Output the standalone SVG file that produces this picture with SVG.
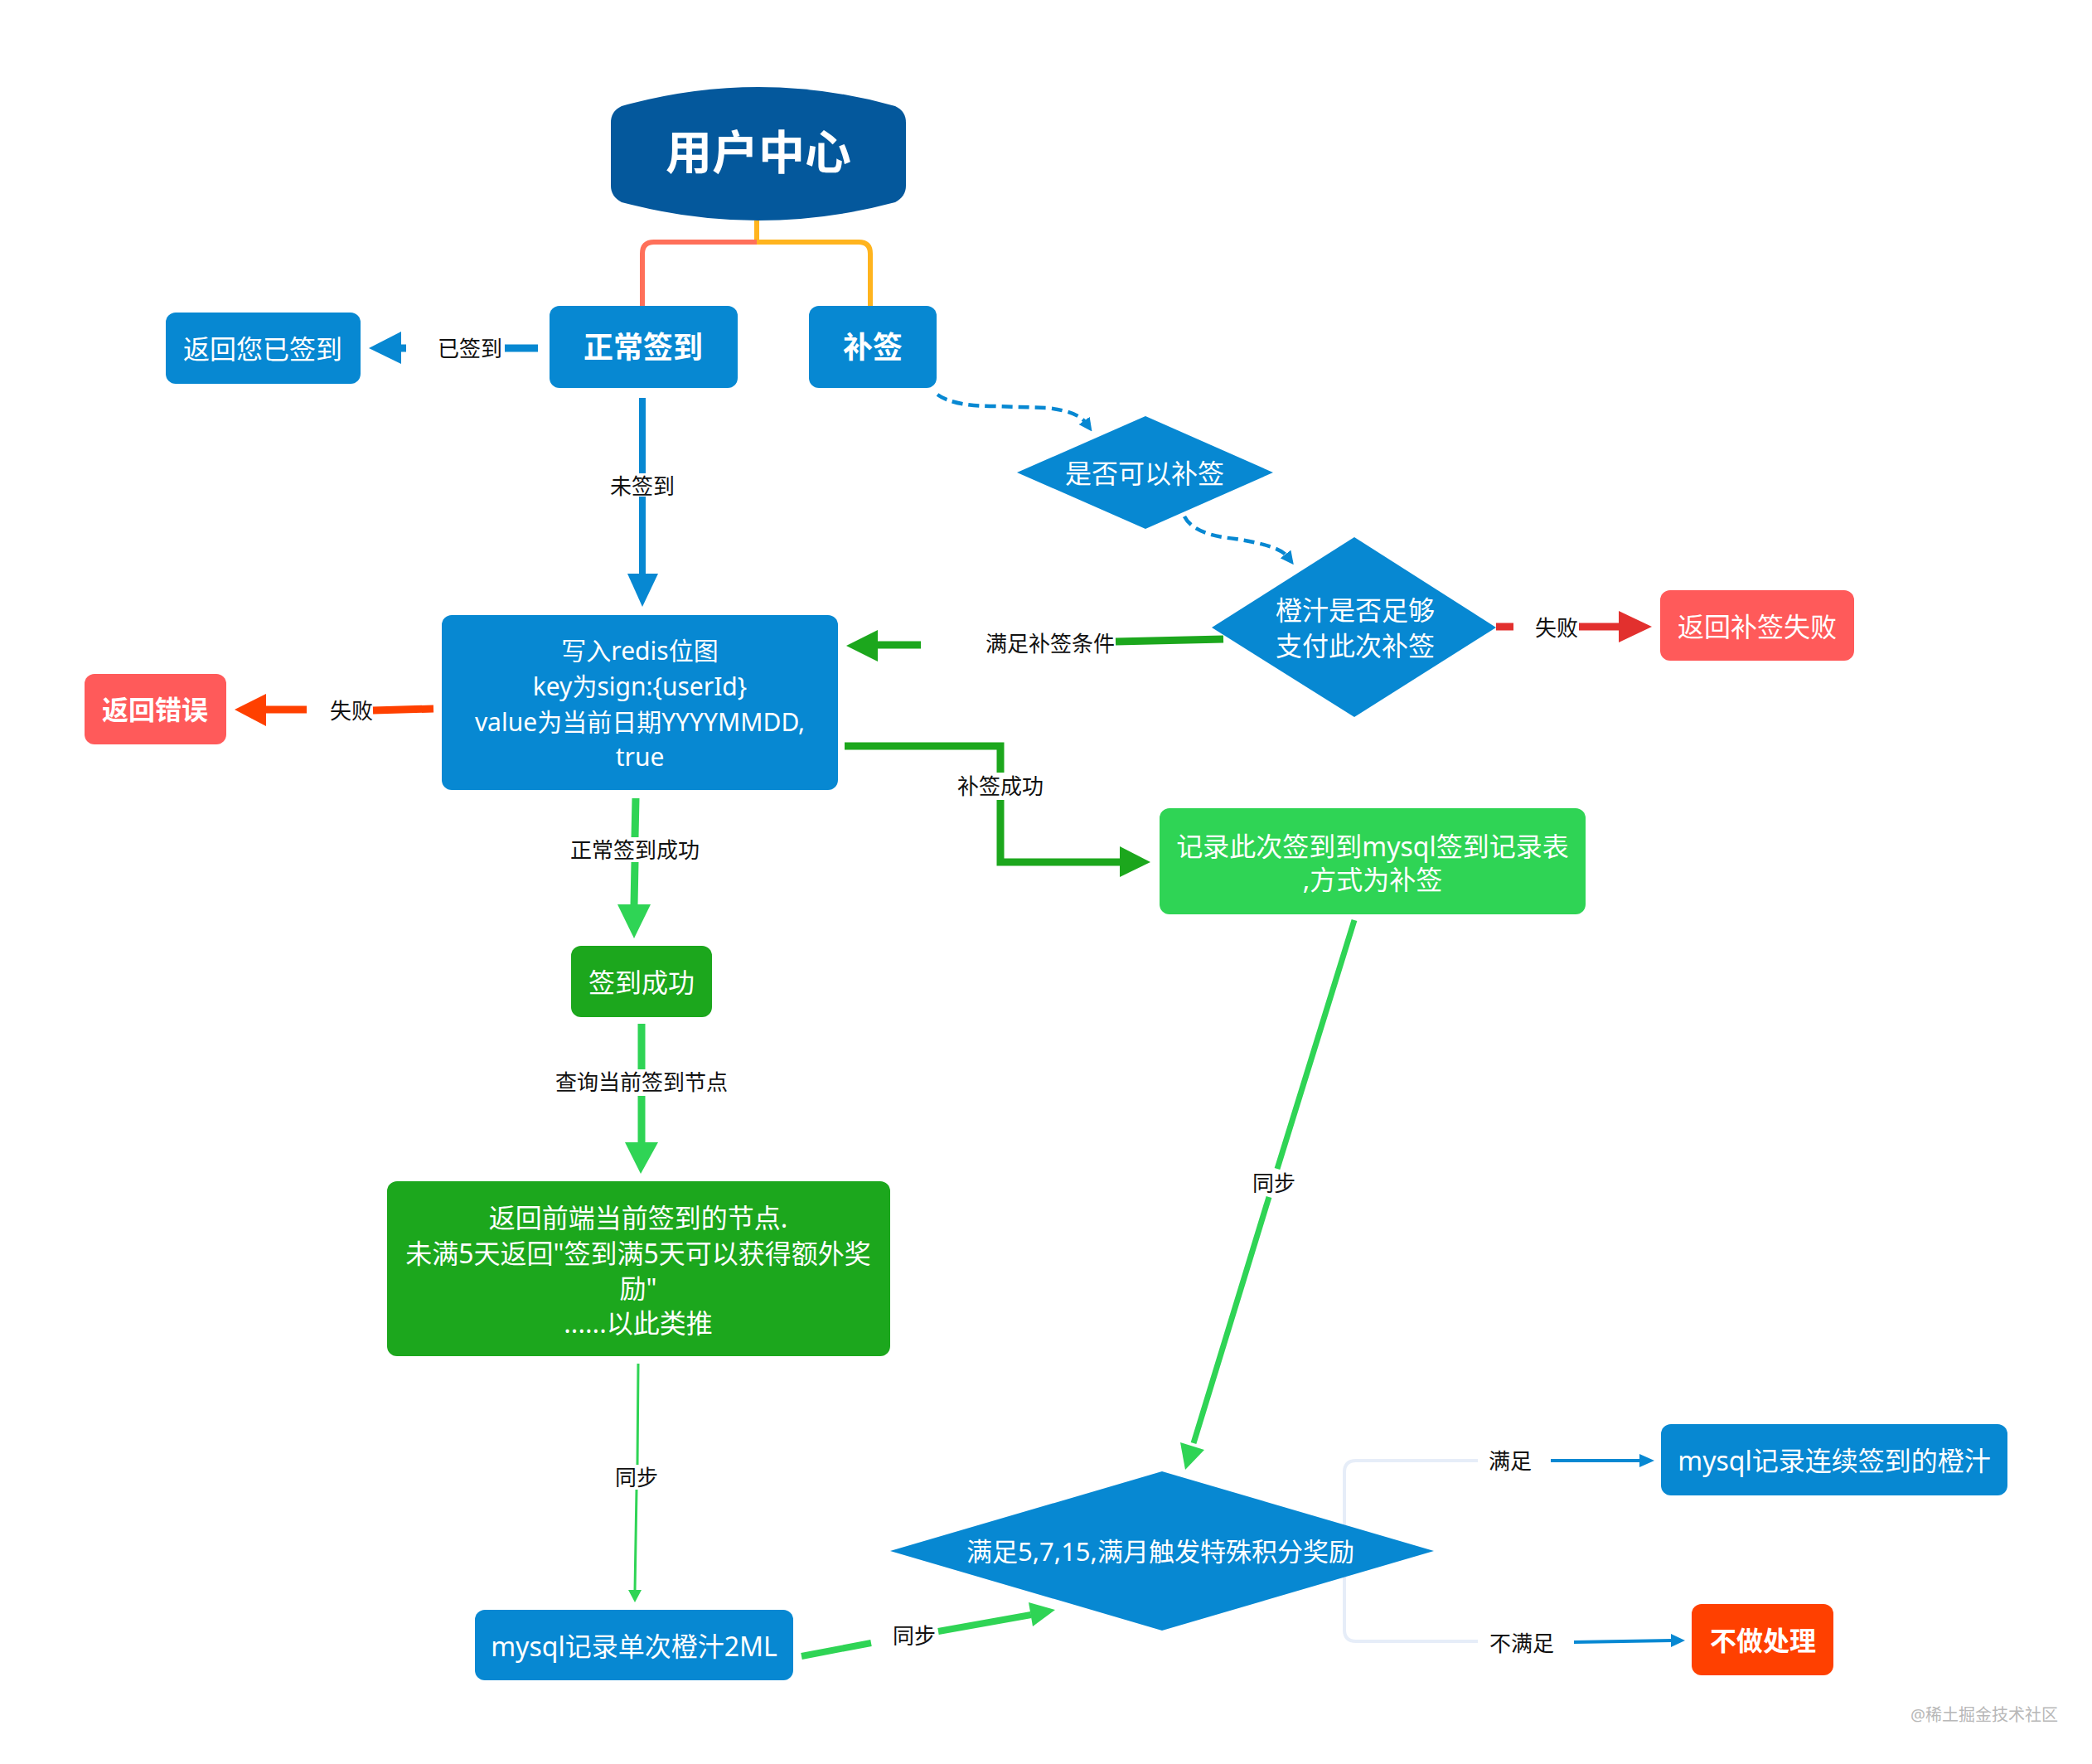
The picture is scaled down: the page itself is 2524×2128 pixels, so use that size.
<svg xmlns="http://www.w3.org/2000/svg" width="2524" height="2128" viewBox="0 0 2524 2128">
<defs>
<style>
text{font-family:"Noto Sans","Noto Sans CJK SC",sans-serif;text-anchor:middle;dominant-baseline:central}
.nt{fill:#fff;font-size:32px}
.b{font-weight:bold}
.lb{fill:#111;font-size:26px}
.blue{fill:#0788D2}
.red{fill:#FF5A5A}
.og{fill:#FF4000}
.lg{fill:#2FD455}
.dg{fill:#1CA71D}
.c{fill:none;stroke-linecap:butt}
.dash{fill:none;stroke:#0788D2;stroke-width:4.5;stroke-dasharray:13 7}
</style>
<marker id="dh" viewBox="0 0 10 10" refX="2" refY="5" markerWidth="16" markerHeight="16" markerUnits="userSpaceOnUse" orient="auto">
<path d="M0,0 L10,5 L0,10 z" fill="#0788D2"/>
</marker>
</defs>
<rect width="2524" height="2128" fill="#fff"/>

<g id="connectors">
<!-- root branches -->
<path class="c" d="M913 266 V292" stroke="#FFB41E" stroke-width="6"/>
<path class="c" d="M913 292 H789 Q775 292 775 306 V370" stroke="#FF705A" stroke-width="6"/>
<path class="c" d="M913 292 H1036 Q1050 292 1050 306 V370" stroke="#FFB41E" stroke-width="6"/>
<!-- 已签到 -->
<path class="c" d="M649 420 H609 M490 420 H482" stroke="#0788D2" stroke-width="9"/>
<polygon points="445,420 484,400 484,439" fill="#0788D2"/>
<text class="lb" x="567" y="420">已签到</text>
<!-- 未签到 -->
<path class="c" d="M775 480 V571 M775 599 V693" stroke="#0788D2" stroke-width="8"/>
<polygon points="757,692 794,692 775,732" fill="#0788D2"/>
<text class="lb" x="775" y="586">未签到</text>
<!-- 失败 to 返回错误 -->
<path class="c" d="M523 855 L450 857 M370 856 H320" stroke="#FF4000" stroke-width="9"/>
<polygon points="283,856 321,837 321,876" fill="#FF4000"/>
<text class="lb" x="424" y="857">失败</text>
<!-- dashed to 是否可以补签 -->
<path class="dash" d="M1131 476 Q1150 490 1200 490 L1262 492 Q1300 496 1310 510" marker-end="url(#dh)"/>
<!-- dashed to 橙汁 -->
<path class="dash" d="M1429 623 Q1440 645 1490 650 Q1543 658 1553 671" marker-end="url(#dh)"/>
<!-- 失败 to 返回补签失败 -->
<path class="c" d="M1805 756 H1826 M1905 756 H1954" stroke="#E2302E" stroke-width="9"/>
<polygon points="1993,756 1953,737 1953,775" fill="#E2302E"/>
<text class="lb" x="1878" y="757">失败</text>
<!-- 满足补签条件 -->
<path class="c" d="M1476 771 L1346 774 M1111 778 H1058" stroke="#1CA71D" stroke-width="9"/>
<polygon points="1021,779 1059,760 1059,798" fill="#1CA71D"/>
<text class="lb" x="1267" y="776">满足补签条件</text>
<!-- 补签成功 -->
<path class="c" d="M1019 900 H1207 V932 M1207 965 V1040 H1352" stroke="#1CA71D" stroke-width="9"/>
<polygon points="1388,1040 1351,1021 1351,1058" fill="#1CA71D"/>
<text class="lb" x="1207" y="948">补签成功</text>
<!-- 正常签到成功 -->
<path class="c" d="M767 963 L766 1010 M766 1040 L765 1092" stroke="#2FD455" stroke-width="9"/>
<polygon points="745,1091 785,1091 765,1132" fill="#2FD455"/>
<text class="lb" x="766" y="1025">正常签到成功</text>
<!-- 查询当前签到节点 -->
<path class="c" d="M774 1235 V1290 M774 1322 V1379" stroke="#2FD455" stroke-width="9"/>
<polygon points="754,1378 794,1378 773,1416" fill="#2FD455"/>
<text class="lb" x="774" y="1305">查询当前签到节点</text>
<!-- 同步 down -->
<path class="c" d="M770 1645 L769 1767 M768 1797 L766 1919" stroke="#2FD455" stroke-width="3"/>
<polygon points="758,1918 774,1918 766,1933" fill="#2FD455"/>
<text class="lb" x="768" y="1782">同步</text>
<!-- 同步 right -->
<path class="c" d="M967 1998 L1051 1982 M1132 1968 L1244 1948" stroke="#2FD455" stroke-width="8"/>
<polygon points="1273,1942 1241,1933 1246,1962" fill="#2FD455"/>
<text class="lb" x="1103" y="1973">同步</text>
<!-- 同步 long -->
<path class="c" d="M1634 1110 L1541 1410 M1531 1444 L1440 1741" stroke="#2FD455" stroke-width="7"/>
<polygon points="1430,1773 1424,1740 1453,1749" fill="#2FD455"/>
<text class="lb" x="1537" y="1427">同步</text>
<!-- 满足 / 不满足 -->
<path class="c" d="M1783 1762 H1636 Q1622 1762 1622 1776 V1966 Q1622 1980 1636 1980 H1783" stroke="#E6EDF8" stroke-width="4"/>
<path class="c" d="M1871 1762 H1980" stroke="#0788D2" stroke-width="4"/>
<polygon points="1978,1754 1978,1770 1996,1762" fill="#0788D2"/>
<text class="lb" x="1822" y="1762">满足</text>
<path class="c" d="M1899 1981 L2017 1979" stroke="#0788D2" stroke-width="4"/>
<polygon points="2016,1971 2016,1987 2033,1979" fill="#0788D2"/>
<text class="lb" x="1836" y="1982">不满足</text>
</g>

<g id="user-center">
<path d="M750 128 Q915 82 1080 128 Q1093 134 1093 148 L1093 224 Q1093 237 1080 244 Q915 288 750 244 Q737 237 737 224 L737 148 Q737 134 750 128 Z" fill="#04589C"/>
<text class="nt b" x="915" y="182" style="font-size:56px">用户中心</text>
</g>
<g id="normal-sign">
<rect class="blue" x="663" y="369" width="227" height="99" rx="12"/>
<text class="nt b" x="776" y="418" style="font-size:36px">正常签到</text>
</g>
<g id="resign">
<rect class="blue" x="976" y="369" width="154" height="99" rx="12"/>
<text class="nt b" x="1053" y="418" style="font-size:36px">补签</text>
</g>
<g id="already-signed">
<rect class="blue" x="200" y="377" width="235" height="86" rx="12"/>
<text class="nt" x="317" y="420">返回您已签到</text>
</g>
<g id="write-redis">
<rect class="blue" x="533" y="742" width="478" height="211" rx="12"/>
<text class="nt" x="772" y="784" style="font-size:30px">写入redis位图</text>
<text class="nt" x="772" y="827" style="font-size:30px">key为sign:{userId}</text>
<text class="nt" x="772" y="870" style="font-size:30px">value为当前日期YYYYMMDD,</text>
<text class="nt" x="772" y="912" style="font-size:30px">true</text>
</g>
<g id="return-error">
<rect class="red" x="102" y="813" width="171" height="85" rx="12"/>
<text class="nt b" x="187" y="855">返回错误</text>
</g>
<g id="can-resign">
<polygon class="blue" points="1382,502 1536,570 1382,638 1227,570"/>
<text class="nt" x="1381" y="570">是否可以补签</text>
</g>
<g id="juice-enough">
<polygon class="blue" points="1634,648 1805,757 1634,865 1462,757"/>
<text class="nt" x="1635" y="735">橙汁是否足够</text>
<text class="nt" x="1635" y="778">支付此次补签</text>
</g>
<g id="resign-fail">
<rect class="red" x="2003" y="712" width="234" height="85" rx="12"/>
<text class="nt" x="2120" y="755">返回补签失败</text>
</g>
<g id="record-resign">
<rect class="lg" x="1399" y="975" width="514" height="128" rx="12"/>
<text class="nt" x="1656" y="1020">记录此次签到到mysql签到记录表</text>
<text class="nt" x="1656" y="1060">,方式为补签</text>
</g>
<g id="sign-success">
<rect class="dg" x="689" y="1141" width="170" height="86" rx="12"/>
<text class="nt" x="774" y="1184">签到成功</text>
</g>
<g id="return-frontend">
<rect class="dg" x="467" y="1425" width="607" height="211" rx="12"/>
<text class="nt" x="770" y="1468">返回前端当前签到的节点.</text>
<text class="nt" x="770" y="1511">未满5天返回"签到满5天可以获得额外奖</text>
<text class="nt" x="770" y="1553">励"</text>
<text class="nt" x="770" y="1595">......以此类推</text>
</g>
<g id="mysql-single">
<rect class="blue" x="573" y="1942" width="384" height="85" rx="12"/>
<text class="nt" x="765" y="1985">mysql记录单次橙汁2ML</text>
</g>
<g id="reward-check">
<polygon class="blue" points="1402,1775 1730,1871 1402,1967 1074,1871"/>
<text class="nt" x="1400" y="1871" style="font-size:31px">满足5,7,15,满月触发特殊积分奖励</text>
</g>
<g id="mysql-continuous">
<rect class="blue" x="2004" y="1718" width="418" height="86" rx="12"/>
<text class="nt" x="2213" y="1761">mysql记录连续签到的橙汁</text>
</g>
<g id="no-action">
<rect class="og" x="2041" y="1935" width="171" height="86" rx="12"/>
<text class="nt b" x="2127" y="1978">不做处理</text>
</g>
<text x="2394" y="2068" style="font-size:20px;fill:#B8B8B8">@稀土掘金技术社区</text>
</svg>
